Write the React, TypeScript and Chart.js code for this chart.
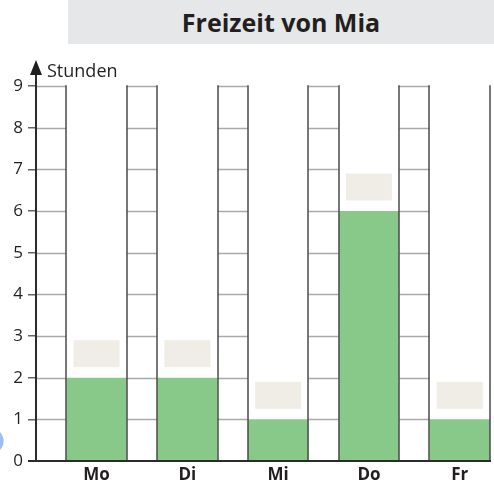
import React, { useEffect, useRef } from "react";
import { Chart, registerables } from "chart.js";

Chart.register(...registerables);

const title = "Freizeit von Mia";
const yAxisLabel = "Stunden";
const categories = ["Mo", "Di", "Mi", "Do", "Fr"];
const hours = [2, 2, 1, 6, 1];
const yMax = 9;

// Each category occupies 3 units on the x scale: 1 unit narrow grid column + 2 units bar.
const SLOT = 3;

const decorPlugin = {
  id: "decor",
  beforeDatasetsDraw(chart: any) {
    const { ctx, scales } = chart;
    const x = scales.x;
    const y = scales.y;
    ctx.save();
    ctx.strokeStyle = "#a9a9a9";
    ctx.lineWidth = 1.5;
    categories.forEach((_, i) => {
      const x0 = x.getPixelForValue(SLOT * i);
      const x1 = x.getPixelForValue(SLOT * i + 1);
      for (let v = 1; v <= yMax; v++) {
        const py = Math.round(y.getPixelForValue(v)) + 0.5;
        ctx.beginPath();
        ctx.moveTo(x0, py);
        ctx.lineTo(x1, py);
        ctx.stroke();
      }
    });
    ctx.restore();
  },
  afterDatasetsDraw(chart: any) {
    const { ctx, scales } = chart;
    const x = scales.x;
    const y = scales.y;
    const y0 = y.getPixelForValue(0);
    const yTop = y.getPixelForValue(yMax);
    ctx.save();
    // vertical lines
    ctx.strokeStyle = "#4a4a4a";
    ctx.lineWidth = 1.5;
    const bounds: number[] = [];
    categories.forEach((_, i) => {
      if (i > 0) bounds.push(SLOT * i);
      bounds.push(SLOT * i + 1);
    });
    bounds.push(SLOT * categories.length);
    bounds.forEach((b) => {
      const px = Math.round(x.getPixelForValue(b));
      ctx.beginPath();
      ctx.moveTo(px, y0);
      ctx.lineTo(px, yTop - 0.75);
      ctx.stroke();
    });
    // answer boxes above bars
    const meta = chart.getDatasetMeta(0);
    ctx.fillStyle = "#f0ede7";
    meta.data.forEach((bar: any) => {
      const w = 46;
      const h = 27;
      ctx.fillRect(bar.x - w / 2, bar.y - 10.5 - h, w, h);
    });
    // x axis
    const axX = x.getPixelForValue(0);
    ctx.strokeStyle = "#2b2b2b";
    ctx.lineWidth = 2;
    ctx.beginPath();
    ctx.moveTo(axX - 8, y0);
    ctx.lineTo(x.getPixelForValue(SLOT * categories.length) + 1, y0);
    ctx.stroke();
    // y axis with arrow
    ctx.beginPath();
    ctx.moveTo(axX, y0 + 1);
    ctx.lineTo(axX, 70);
    ctx.stroke();
    ctx.fillStyle = "#1f1f1f";
    ctx.beginPath();
    ctx.moveTo(axX, 60);
    ctx.lineTo(axX - 6, 75);
    ctx.lineTo(axX + 6, 75);
    ctx.closePath();
    ctx.fill();
    // axis title
    ctx.fillStyle = "#231f20";
    ctx.font = '18px "Open Sans"';
    ctx.textAlign = "left";
    ctx.textBaseline = "alphabetic";
    ctx.fillText(yAxisLabel, axX + 11, 77);
    // blue marker at left edge
    ctx.fillStyle = "rgba(120, 170, 240, 0.75)";
    ctx.beginPath();
    ctx.arc(-10, 441, 13.5, 0, Math.PI * 2);
    ctx.fill();
    ctx.restore();
  },
};

export default function App() {
  const canvasRef = useRef<HTMLCanvasElement | null>(null);

  useEffect(() => {
    document.body.style.margin = "0";
    const canvas = canvasRef.current;
    if (!canvas) return;
    const chart = new Chart(canvas, {
      type: "bar",
      data: {
        datasets: [
          {
            data: hours.map((h, i) => ({ x: SLOT * i + 2, y: h })),
            backgroundColor: "#88c98a",
            borderWidth: 0,
            categoryPercentage: 1,
            barPercentage: 2 / 3,
          },
        ],
      },
      options: {
        animation: false,
        responsive: false,
        maintainAspectRatio: false,
        layout: { padding: { top: 86, right: 4, left: 0, bottom: 0 } },
        plugins: {
          legend: { display: false },
          tooltip: { enabled: false },
          title: { display: false },
        },
        scales: {
          x: {
            type: "linear",
            min: 0,
            max: SLOT * categories.length,
            offset: false,
            afterBuildTicks(s: any) {
              s.ticks = categories.map((_, i) => ({ value: SLOT * i + 2 }));
            },
            afterFit(s: any) {
              s.height = 25;
            },
            ticks: {
              autoSkip: false,
              maxRotation: 0,
              padding: 4,
              color: "#231f20",
              font: { family: "Open Sans", size: 17, weight: "bold" },
              callback: (_v: any, i: number) => categories[i],
            },
            grid: { display: false, drawTicks: false },
            border: { display: false },
          },
          y: {
            min: 0,
            max: yMax,
            afterFit(s: any) {
              s.width = 36;
            },
            ticks: {
              stepSize: 1,
              padding: 5,
              color: "#231f20",
              font: { family: "Open Sans", size: 17 },
            },
            grid: {
              drawOnChartArea: false,
              drawTicks: true,
              tickLength: 8,
              color: "#666",
              lineWidth: 1.5,
            },
            border: { display: false },
          },
        },
      } as any,
      plugins: [decorPlugin],
    });
    return () => chart.destroy();
  }, []);

  return (
    <div style={{ position: "absolute", left: 0, top: 0, width: 494, height: 486, background: "#fff" }}>
      <div
        style={{
          position: "absolute",
          left: 68,
          top: 0,
          width: 426,
          height: 44,
          background: "#e6e7e9",
          display: "flex",
          alignItems: "center",
          justifyContent: "center",
          fontFamily: '"Open Sans", sans-serif',
          fontWeight: 700,
          fontSize: 25,
          color: "#231f20",
        }}
      >
        {title}
      </div>
      <canvas
        ref={canvasRef}
        width={494}
        height={486}
        style={{ position: "absolute", left: 0, top: 0, width: 494, height: 486 }}
      />
    </div>
  );
}
